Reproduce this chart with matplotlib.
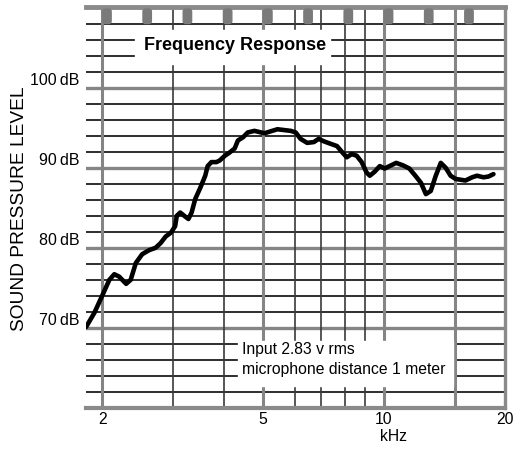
import matplotlib.pyplot as plt
import numpy as np
from matplotlib.patches import Rectangle, FancyBboxPatch
from matplotlib.ticker import NullLocator

plt.rcParams['font.family'] = ['Liberation Sans', 'DejaVu Sans']

# frequency response (kHz, dB SPL)
freq = [1.82, 1.91, 2.00, 2.08, 2.14, 2.20, 2.29, 2.35, 2.42, 2.51,
        2.61, 2.71, 2.79, 2.87, 2.96, 3.03, 3.06, 3.12, 3.21, 3.27,
        3.33, 3.40, 3.50, 3.60, 3.65, 3.73, 3.84, 3.91, 4.03, 4.14,
        4.26, 4.34, 4.47, 4.59, 4.77, 5.05, 5.44, 5.87, 6.04, 6.21,
        6.45, 6.70, 6.89, 7.09, 7.36, 7.65, 7.86, 8.09, 8.32, 8.56,
        8.81, 9.06, 9.23, 9.49, 9.77, 10.05, 10.43, 10.73, 11.15, 11.57,
        12.02, 12.37, 12.72, 13.08, 13.46, 13.85, 14.24, 14.65, 15.07, 15.95,
        16.57, 17.04, 17.69, 18.20, 18.72]
spl = [70.1, 71.9, 74.1, 76.0, 76.7, 76.4, 75.5, 76.0, 78.1, 79.2,
       79.7, 80.0, 80.6, 81.4, 81.9, 82.7, 84.0, 84.4, 83.9, 83.6,
       84.4, 86.1, 87.5, 89.0, 90.2, 90.7, 90.7, 90.9, 91.5, 91.9,
       92.4, 93.4, 93.8, 94.4, 94.6, 94.3, 94.8, 94.6, 94.4, 93.6,
       93.1, 93.2, 93.6, 93.3, 93.0, 92.7, 92.0, 91.3, 91.7, 91.5,
       90.7, 89.4, 89.0, 89.5, 90.2, 89.9, 90.3, 90.6, 90.3, 89.9,
       88.9, 88.1, 86.7, 87.1, 89.0, 90.6, 90.0, 89.0, 88.6, 88.4,
       88.8, 89.0, 88.8, 88.9, 89.2]

x_ticks = [2, 5, 10, 20]
x_ticklabels = ['2', '5', '10', '20']
y_ticks = [70, 80, 90, 100]
y_ticklabels = ['70\u2009dB', '80\u2009dB', '90\u2009dB', '100\u2009dB']
v_lines = [2, 3, 4, 5, 6, 7, 8, 9, 10, 15]
v_major = [2, 5, 10, 15]

fig = plt.figure(figsize=(5.13, 4.5), dpi=100)
ax = fig.add_axes([86 / 513, 42 / 450, 419 / 513, 400.5 / 450])
ax.set_xscale('log')
ax.set_xlim(1.82, 20)
ax.set_ylim(60, 110)

# chart paper grid
for db in np.arange(62, 110, 2):
    if db % 10 == 0:
        ax.axhline(db, color='#858585', lw=2.4, zorder=1)
    else:
        ax.axhline(db, color='#333333', lw=1.45, zorder=1)
for f in v_lines:
    if f in v_major:
        ax.axvline(f, color='#858585', lw=2.2, zorder=1)
    else:
        ax.axvline(f, color='#3a3a3a', lw=1.2, zorder=1)

# borders
ax.axhline(110, color='#8a8a8a', lw=3.5, zorder=2, clip_on=False)
ax.axhline(60, color='#8a8a8a', lw=3.0, zorder=2, clip_on=False)
ax.axvline(20, color='#8a8a8a', lw=2.4, zorder=2, clip_on=False)

# tabs along the top edge
for tx in np.linspace(0.050, 0.914, 10):
    ax.add_patch(FancyBboxPatch((tx - 0.010, 0.960), 0.020, 0.036,
                                boxstyle='round,pad=0,rounding_size=0.006',
                                transform=ax.transAxes, color='#7a7a7a',
                                zorder=3, clip_on=False))

# white areas for the labels
ax.add_patch(Rectangle((0.117, 0.859), 0.465, 0.085, transform=ax.transAxes,
                       color='white', zorder=2))
ax.add_patch(Rectangle((0.363, 0.055), 0.513, 0.112, transform=ax.transAxes,
                       color='white', zorder=2))

ax.plot(freq, spl, color='black', lw=3.3, solid_joinstyle='round',
        solid_capstyle='round', zorder=4)

ax.text(0.356, 0.906, 'Frequency Response', transform=ax.transAxes,
        ha='center', va='center', fontsize=13, fontweight='bold', zorder=5)
ax.text(0.372, 0.145, 'Input 2.83 v rms', transform=ax.transAxes,
        ha='left', va='center', fontsize=11.3, zorder=5)
ax.text(0.372, 0.095, 'microphone distance 1 meter', transform=ax.transAxes,
        ha='left', va='center', fontsize=11.3, zorder=5)
ax.text(0.733, -0.072, 'kHz', transform=ax.transAxes,
        ha='center', va='center', fontsize=11.3)

for s in ax.spines.values():
    s.set_visible(False)
ax.xaxis.set_minor_locator(NullLocator())
ax.set_xticks(x_ticks)
ax.set_xticklabels(x_ticklabels, fontsize=11.3)
ax.set_yticks(y_ticks)
ax.set_yticklabels(y_ticklabels, fontsize=11.5, va='bottom')
ax.tick_params(length=0)
ax.tick_params(axis='x', pad=3)
ax.tick_params(axis='y', pad=4.5)

fig.text(20 / 513, 1 - 209 / 450, 'SOUND PRESSURE LEVEL', rotation=90,
         ha='center', va='center', fontsize=13.8)

fig.savefig('out.png', dpi=100)
